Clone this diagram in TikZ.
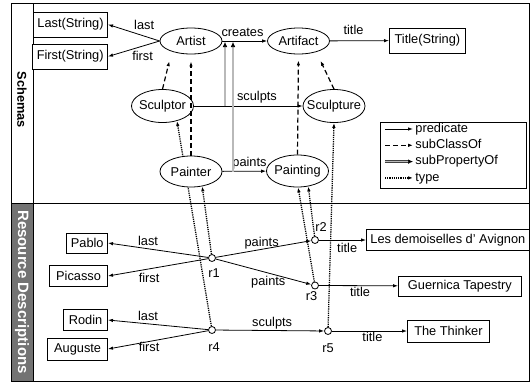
\documentclass[tikz,border=0pt]{standalone}
\usepackage{fontspec}
\setmainfont{Liberation Sans}
\usetikzlibrary{arrows.meta}
\usetikzlibrary{shapes.geometric}
\usetikzlibrary{backgrounds}

\begin{document}
\begin{tikzpicture}[%
    x=1pt, y=-1pt,
    font=\fontsize{12.8}{15}\selectfont,
    cls/.style={
      ellipse,
      draw=black,
      fill=white,
      inner xsep=-6pt,
      inner ysep=0pt,
      minimum width=62pt,
      minimum height=26pt
    },
    lit/.style={
      rectangle,
      draw=black,
      fill=white,
      inner xsep=4pt,
      inner ysep=0pt,
      minimum height=21pt
    },
    res/.style={
      circle,
      draw=black,
      fill=white,
      inner sep=0pt,
      minimum size=7pt
    },
    lbl/.style={inner sep=1.5pt},
    pred/.style={->},
    subcls/.style={->, line width=1.2pt, dash pattern=on 5pt off 3pt},
    subprop/.style={-{Latex[length=5pt,width=4.5pt,black]}, draw=black!75, double=gray!55, double distance=1.1pt, line width=0.6pt},
    typeof/.style={->, line width=1.3pt, dash pattern=on 1.2pt off 1pt},
    line width=0.8pt,
    >={Latex[length=5pt,width=3.5pt]}
    ]
    \useasboundingbox (0,0) rectangle (530,383);
    \fill[black!55] (11,203) rectangle (33,381);
    \draw (11,3) rectangle (529,381);
    \draw (33,3) -- (33,381);
    \draw (11,203) -- (529,203);
    \draw (22,100) node[rotate=-90, font=\fontsize{12.8}{15}\selectfont\bfseries] (schemas) {Schemas};
    \draw (22,292) node[rotate=-90, text=white, font=\fontsize{15}{18}\selectfont\bfseries] (resdesc) {Resource Descriptions};

    \draw (191,41) node[cls] (artist) {Artist};
    \draw (298.5,41) node[cls] (artifact) {Artifact};
    \draw (162.5,106) node[cls, minimum height=33pt] (sculptor) {Sculptor};
    \draw (334,106) node[cls, minimum height=33pt] (sculpture) {Sculpture};
    \draw (191,171.5) node[cls, minimum height=31pt] (painter) {Painter};
    \draw (297.5,171) node[cls, minimum height=32pt] (painting) {Painting};
    \draw (108,24.5) node[lit, anchor=east, minimum width=71pt, minimum height=25pt] (lastS) {Last(String)};
    \draw (108,56.5) node[lit, anchor=east, minimum width=71pt, minimum height=25pt] (firstS) {First(String)};
    \draw (389,40.5) node[lit, anchor=west, minimum width=76pt, minimum height=25pt] (titleS) {Title(String)};

    \draw[pred] (artist.west) -- (lastS.east) node[lbl, pos=0.3, above=5pt] {last};
    \draw[pred] (artist.west) -- (firstS.east) node[lbl, pos=0.33, below=3pt] {first};
    \draw[pred] (artist) -- (artifact) node[lbl, pos=0.45, above=2pt] {creates};
    \draw[pred] (artifact) -- (titleS) node[lbl, pos=0.4, above=4pt] {title};
    \draw[pred] (sculptor) -- (sculpture) node[lbl, pos=0.58, above=1pt] {sculpts};
    \draw[pred] (painter) -- (painting) node[lbl, pos=0.62, above=0pt] {paints};

    \draw[subcls, shorten >=7pt] (sculptor.north) -- ([xshift=-20pt]artist.south);
    \draw[subcls, shorten >=7pt] (painter.north) -- (artist.south);
    \draw[subcls, shorten >=6pt] (painting.north) -- (artifact.south);
    \draw[subcls, shorten >=7pt] (sculpture.north) -- ([xshift=19pt]artifact.south);

    \coordinate (spS) at (225,0);
    \coordinate (spP) at (233,0);
    \draw[subprop, shorten >=1pt] (spS |- sculptor.east) -- (spS |- artist.east);
    \draw[subprop, shorten >=1pt] (spP |- painter.east) -- (spP |- artist.east);

    \draw (453,155) node[rectangle, draw=black, minimum width=146pt, minimum height=66pt] (legend) {};
    \foreach \sty/\txt [count=\i] in {pred/predicate, subcls/subClassOf, subprop/subPropertyOf, typeof/type}
    {
      \draw (415,{112.7+16.3*\i}) node[anchor=west, inner sep=0pt, text height=9pt, text depth=2.5pt] (key\i) {\txt};
      \draw[\sty] ([xshift=-30pt]key\i.west) -- ([xshift=-2pt]key\i.west);
    }

    \draw (212,258) node[res, label={[lbl, xshift=2pt, yshift=-5pt]below:r1}] (r1) {};
    \draw (315,240) node[res, label={[lbl, xshift=6pt, yshift=3pt]above:r2}] (r2) {};
    \draw (315,285.5) node[res, label={[lbl, xshift=-3.5pt]below:r3}] (r3) {};
    \draw (212,330) node[res, label={[lbl, xshift=2pt, yshift=-7pt]below:r4}] (r4) {};
    \draw (328,331) node[res, label={[lbl, yshift=-7pt]below:r5}] (r5) {};
    \draw (108,243) node[lit, anchor=east, minimum width=40pt, minimum height=20pt] (pablo) {Pablo};
    \draw (108,276) node[lit, anchor=east, minimum width=58pt] (picasso) {Picasso};
    \draw (108,320) node[lit, anchor=east, minimum width=44pt] (rodin) {Rodin};
    \draw (108,349) node[lit, anchor=east, minimum width=60pt, minimum height=22pt] (auguste) {Auguste};
    \draw (366,240) node[lit, anchor=west, minimum width=162pt] (demoiselles) {Les demoiselles d' Avignon};
    \draw (398,286) node[lit, anchor=west, minimum width=123pt, minimum height=20pt] (guernica) {Guernica Tapestry};
    \draw (407,331) node[lit, anchor=west, minimum width=82pt, minimum height=22pt] (thinker) {The Thinker};

    \draw[pred] (r1) -- (pablo.east) node[lbl, pos=0.6, above=1.5pt] {last};
    \draw[pred] (r1) -- (picasso.east) node[lbl, pos=0.59, below=2.5pt] {first};
    \draw[pred] (r4) -- (rodin.east) node[lbl, pos=0.6, above=1pt] {last};
    \draw[pred] (r4) -- (auguste.east) node[lbl, pos=0.59, below=-1pt] {first};
    \draw[pred] (r1) -- (r2) node[lbl, pos=0.48, above=-1.5pt] {paints};
    \draw[pred] (r1) -- (r3) node[lbl, pos=0.55, below=1.3pt] {paints};
    \draw[pred] (r4) -- (r5) node[lbl, pos=0.52, above=-0.7pt] {sculpts};
    \draw[pred] (r2) -- (demoiselles) node[lbl, pos=0.6, below=1.5pt] {title};
    \draw[pred] (r3) -- (guernica) node[lbl, pos=0.52, below=0pt] {title};
    \draw[pred] (r5) -- (thinker) node[lbl, pos=0.54, below=-0.5pt] {title};

    \begin{scope}[on background layer]
      \draw[typeof] (r4) -- (sculptor.-46);
    \end{scope}
    \draw[typeof] (r1) -- (painter.-53);
    \draw[typeof] (r2) -- (painting.-55);
    \draw[typeof] (r3) -- (painting.-88);
    \draw[typeof] (r5) -- (sculpture.south);
  \end{tikzpicture}
\end{document}
